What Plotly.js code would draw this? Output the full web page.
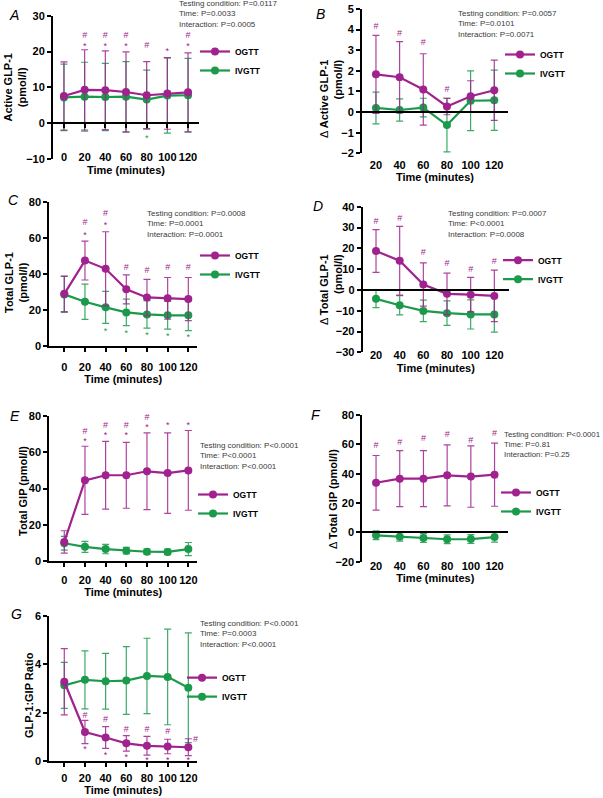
<!DOCTYPE html>
<html>
<head>
<meta charset="utf-8">
<script src="https://cdn.plot.ly/plotly-3.0.1.min.js"></script>
<style>html,body{margin:0;padding:0;background:#fff}#chart{width:603px;height:798px}</style>
</head>
<body>
<div id="chart"></div>
<script>
// ---------------- DATA ----------------
const timeFull = [0, 20, 40, 60, 80, 100, 120];
const timeDelta = [20, 40, 60, 80, 100, 120];
const xTitle = 'Time (minutes)';

// A: Active GLP-1 (pmol/l)
const activeOgttMean = [7.6, 9.3, 9.2, 8.7, 7.8, 8.3, 8.6];
const activeOgttSd = [9.5, 11.2, 11.0, 11.2, 9.4, 10.0, 11.0];
const activeIvgttMean = [7.2, 7.4, 7.3, 7.4, 6.6, 7.7, 7.8];
const activeIvgttSd = [9.3, 9.6, 9.4, 9.8, 8.2, 10.5, 10.3];
const activeHashT = [20, 40, 60, 80, 120];
const activeHashY = [24.5, 24.5, 24.5, 21.6, 24.5];
const activeStarT = [20, 40, 60, 100, 120];
const activeStarY = [21.4, 21.4, 21.4, 20.0, 21.4];
const activeIvStarT = [80];
const activeIvStarY = [-4.4];

// B: Delta Active GLP-1
const dActiveOgttMean = [1.83, 1.69, 1.10, 0.27, 0.77, 1.06];
const dActiveOgttSd = [1.89, 1.73, 1.73, 0.40, 0.75, 1.46];
const dActiveIvgttMean = [0.20, 0.10, 0.22, -0.63, 0.55, 0.57];
const dActiveIvgttSd = [0.77, 0.54, 0.45, 1.30, 1.45, 1.46];
const dActiveHashT = [20, 40, 60, 80];
const dActiveHashY = [4.14, 3.78, 3.36, 1.09];

// C: Total GLP-1
const totalOgttMean = [28.8, 47.3, 42.7, 31.3, 26.8, 26.3, 25.9];
const totalOgttSd = [9.9, 10.8, 20.6, 8.1, 10.1, 11.6, 12.0];
const totalIvgttMean = [28.5, 24.4, 21.3, 18.5, 17.4, 16.9, 16.9];
const totalIvgttSd = [10.0, 9.8, 8.9, 7.4, 7.6, 7.7, 8.5];
const totalHashT = [20, 40, 60, 80, 100, 120];
const totalHashY = [68.5, 73.5, 43.3, 41.7, 43.3, 43.3];
const totalStarT = [20, 40];
const totalStarY = [60.9, 66.6];
const totalIvStarT = [40, 60, 80, 100, 120];
const totalIvStarY = [7.9, 6.4, 5.5, 4.8, 4.2];

// D: Delta Total GLP-1
const dTotalOgttMean = [18.7, 14.0, 2.6, -1.9, -2.3, -2.9];
const dTotalOgttSd = [10.3, 16.5, 10.4, 10.0, 8.3, 12.4];
const dTotalIvgttMean = [-4.3, -7.4, -10.1, -11.2, -11.8, -11.8];
const dTotalIvgttSd = [4.2, 4.6, 5.2, 5.9, 7.0, 8.5];
const dTotalHashT = [20, 40, 60, 80, 100, 120];
const dTotalHashY = [32.7, 34.4, 17.7, 12.6, 9.8, 13.4];

// E: Total GIP
const gipOgttMean = [10.5, 44.5, 47.3, 47.3, 49.5, 48.5, 50.0];
const gipOgttSd = [6.2, 18.8, 18.7, 18.2, 21.2, 22.2, 22.0];
const gipIvgttMean = [9.8, 7.8, 6.6, 5.7, 5.1, 5.0, 6.6];
const gipIvgttSd = [3.8, 3.0, 2.6, 1.8, 1.4, 1.5, 3.6];
const gipHashT = [20, 40, 60, 80, 100, 120];
const gipHashY = [71.4, 74.5, 74.5, 79.0, 80.2, 80.2];
const gipStarT = [20, 40, 60, 80, 100, 120];
const gipStarY = [66.0, 69.2, 69.2, 73.7, 74.6, 74.6];

// F: Delta Total GIP
const dGipOgttMean = [33.8, 36.6, 36.6, 38.9, 38.0, 39.3];
const dGipOgttSd = [18.6, 19.1, 19.1, 20.8, 20.9, 21.5];
const dGipIvgttMean = [-2.0, -3.0, -3.9, -4.7, -4.6, -3.2];
const dGipIvgttSd = [3.0, 3.0, 3.0, 3.0, 3.0, 3.5];
const dGipHashT = [20, 40, 60, 80, 100, 120];
const dGipHashY = [59.2, 61.3, 63.5, 66.7, 62.4, 67.4];

// G: GLP-1:GIP ratio
const ratioOgttMean = [3.28, 1.20, 0.97, 0.73, 0.63, 0.60, 0.57];
const ratioOgttSd = [1.37, 0.48, 0.45, 0.32, 0.39, 0.30, 0.35];
const ratioIvgttMean = [3.13, 3.36, 3.30, 3.33, 3.52, 3.48, 3.03];
const ratioIvgttSd = [0.95, 1.20, 1.15, 1.40, 1.56, 1.98, 2.27];
const ratioHashT = [20, 40, 60, 80, 100, 127];
const ratioHashY = [1.86, 1.70, 1.31, 1.31, 1.21, 0.90];
const ratioStarT = [20, 40, 60, 80, 100, 120];
const ratioStarY = [0.46, 0.23, 0.15, 0.02, 0.02, 0.02];

// ---------------- STYLE / LAYOUT ----------------
const W = 603, H = 798;
const PURPLE = '#a0228e', GREEN = '#1b9a4b';
const PURPLE_ERR = 'rgba(160,34,142,0.85)', GREEN_ERR = 'rgba(27,154,75,0.85)';
const FONT = '"Liberation Sans", Arial, Helvetica, sans-serif';
const STAT = '#3a3a3a';

const traces = [];
const annotations = [];
const layout = {
  width: W, height: H, margin: {l: 0, r: 0, t: 0, b: 0},
  paper_bgcolor: '#ffffff', plot_bgcolor: 'rgba(0,0,0,0)',
  font: {family: FONT, color: '#000'},
  showlegend: true, annotations: annotations
};

function panel(n, o) {
  const sfx = n === 1 ? '' : String(n);
  const xr = 'x' + sfx, yr = 'y' + sfx, leg = 'legend' + sfx;
  [['IVGTT', GREEN, GREEN_ERR, o.ivMean, o.ivSd, 2], ['OGTT', PURPLE, PURPLE_ERR, o.ogMean, o.ogSd, 1]].forEach(function (s) {
    traces.push({
      type: 'scatter', mode: 'lines+markers', x: o.time, y: s[3], name: s[0],
      xaxis: xr, yaxis: yr, legend: leg, legendrank: s[5],
      line: {color: s[1], width: 2.2}, marker: {color: s[1], size: 8},
      error_y: {type: 'data', array: s[4], visible: true, color: s[2], thickness: 1.2, width: 3.5},
      cliponaxis: false, hoverinfo: 'skip'
    });
  });
  o.marks.forEach(function (m) {
    traces.push({
      type: 'scatter', mode: 'text', x: m.t, y: m.y, text: m.t.map(function () { return m.s; }),
      textfont: {color: m.c, size: 9, family: FONT}, xaxis: xr, yaxis: yr,
      showlegend: false, hoverinfo: 'skip', cliponaxis: false
    });
  });
  const xd = [o.box[0] / W, o.box[2] / W];
  const yd = [1 - o.box[3] / H, 1 - o.box[1] / H];
  layout['yaxis' + sfx] = {
    domain: yd, range: o.yRange, anchor: xr, tickmode: 'linear', tick0: o.yRange[0], dtick: o.dtick,
    ticks: 'outside', ticklen: 4, tickwidth: 2, tickcolor: '#000',
    showline: true, linewidth: 2, linecolor: '#000', showgrid: false, zeroline: false,
    tickfont: {size: 11, weight: 700, family: FONT}, fixedrange: true
  };
  const xa = {
    domain: xd, range: o.xRange, tickmode: 'array', tickvals: o.time, ticktext: o.time.map(String),
    showgrid: false, zeroline: false, showline: true, linewidth: 2, linecolor: '#000',
    ticks: o.tickMarks ? 'outside' : '', ticklen: 4, tickwidth: 2, tickcolor: '#000',
    tickfont: {size: 11, weight: 700, family: FONT}, ticklabelstandoff: o.lblOff,
    title: {text: xTitle, font: {size: 11, weight: 700, family: FONT}, standoff: o.titleOff},
    fixedrange: true
  };
  if (o.atZero) {
    xa.anchor = 'free';
    xa.position = yd[0] + (0 - o.yRange[0]) / (o.yRange[1] - o.yRange[0]) * (yd[1] - yd[0]);
  } else {
    xa.anchor = yr;
  }
  layout['xaxis' + sfx] = xa;
  layout[leg] = {
    x: o.leg[0] / W, xanchor: 'left', y: 1 - o.leg[1] / H, yanchor: 'middle',
    font: {size: 8.5, weight: 700, family: FONT, color: '#000'},
    bgcolor: 'rgba(0,0,0,0)', borderwidth: 0, itemsizing: 'trace', traceorder: 'normal'
  };
  annotations.push({
    xref: 'paper', yref: 'paper', x: o.stat[0] / W, y: 1 - o.stat[1] / H,
    xanchor: 'left', yanchor: 'middle', align: 'left', showarrow: false,
    text: o.statText.join('<br>'), font: {size: o.statSize || 8, color: STAT, family: FONT}
  });
  annotations.push({
    xref: 'paper', yref: 'paper', x: o.letter[0] / W, y: 1 - o.letter[1] / H,
    xanchor: 'center', yanchor: 'middle', showarrow: false,
    text: '<i>' + o.letterText + '</i>', font: {size: 14, family: FONT, color: '#000'}
  });
  annotations.push({
    xref: 'paper', yref: 'paper', x: o.yt[0] / W, y: 1 - o.yt[1] / H,
    xanchor: 'center', yanchor: 'middle', showarrow: false, textangle: -90,
    align: o.ytAlign || 'center',
    text: o.ytText, font: {size: 11, family: FONT, color: '#000'}
  });
}

panel(1, {
  time: timeFull, ogMean: activeOgttMean, ogSd: activeOgttSd, ivMean: activeIvgttMean, ivSd: activeIvgttSd,
  marks: [{t: activeHashT, y: activeHashY, s: '#', c: PURPLE}, {t: activeStarT, y: activeStarY, s: '*', c: PURPLE},
          {t: activeIvStarT, y: activeIvStarY, s: '*', c: GREEN}],
  box: [53, 15.7, 199, 159], yRange: [-10, 30], dtick: 10, xRange: [-10.6, 130.6],
  atZero: true, tickMarks: true, lblOff: 20, titleOff: 3,
  leg: [195, 61], stat: [176.7, 14.3],
  statText: ['Testing condition: P=0.0117', 'Time: P=0.0033', 'Interaction: P=0.0005'],
  letter: [13.5, 15], letterText: 'A',
  yt: [14.5, 88], ytText: '<b>Active GLP-1</b><br><b>(pmol/l)</b>'
});

panel(2, {
  time: timeDelta, ogMean: dActiveOgttMean, ogSd: dActiveOgttSd, ivMean: dActiveIvgttMean, ivSd: dActiveIvgttSd,
  marks: [{t: dActiveHashT, y: dActiveHashY, s: '#', c: PURPLE}],
  box: [362, 9, 508, 153.3], yRange: [-2, 5], dtick: 1, xRange: [8.2, 131.6],
  atZero: true, tickMarks: false, lblOff: 43, titleOff: 1,
  leg: [500, 64], stat: [456, 24],
  statText: ['Testing condition: P=0.0057', 'Time: P=0.0101', 'Interaction: P=0.0071'],
  letter: [320, 14], letterText: 'B',
  yt: [330.5, 98.5], ytAlign: 'right', ytText: 'Δ <b>Active GLP-1</b><br><b>(pmol/l)</b>'
});

panel(3, {
  time: timeFull, ogMean: totalOgttMean, ogSd: totalOgttSd, ivMean: totalIvgttMean, ivSd: totalIvgttSd,
  marks: [{t: totalHashT, y: totalHashY, s: '#', c: PURPLE}, {t: totalStarT, y: totalStarY, s: '*', c: PURPLE},
          {t: totalIvStarT, y: totalIvStarY, s: '*', c: GREEN}],
  box: [49.3, 201.7, 197, 345.7], yRange: [0, 80], dtick: 20, xRange: [-14.5, 128.4],
  atZero: false, tickMarks: true, lblOff: 6, titleOff: 3,
  leg: [195, 265], stat: [145, 224],
  statText: ['Testing condition: P=0.0008', 'Time: P=0.0001', 'Interaction: P=0.0001'],
  letter: [14, 200], letterText: 'C',
  yt: [16, 283], ytText: '<b>Total GLP-1</b><br><b>(pmol/l)</b>'
});

panel(4, {
  time: timeDelta, ogMean: dTotalOgttMean, ogSd: dTotalOgttSd, ivMean: dTotalIvgttMean, ivSd: dTotalIvgttSd,
  marks: [{t: dTotalHashT, y: dTotalHashY, s: '#', c: PURPLE}],
  box: [362.7, 206.7, 509, 352.3], yRange: [-30, 40], dtick: 10, xRange: [8.75, 132.4],
  atZero: true, tickMarks: false, lblOff: 55, titleOff: 3,
  leg: [498, 269.7], stat: [446, 224],
  statText: ['Testing condition: P=0.0007', 'Time: P<0.0001', 'Interaction: P=0.0008'],
  letter: [318, 206], letterText: 'D',
  yt: [331, 290], ytAlign: 'right', ytText: 'Δ <b>Total GLP-1</b><br><b>(pmol/l)</b>'
});

panel(5, {
  time: timeFull, ogMean: gipOgttMean, ogSd: gipOgttSd, ivMean: gipIvgttMean, ivSd: gipIvgttSd,
  marks: [{t: gipHashT, y: gipHashY, s: '#', c: PURPLE}, {t: gipStarT, y: gipStarY, s: '*', c: PURPLE}],
  box: [49.3, 416, 197, 561], yRange: [0, 80], dtick: 20, xRange: [-14.5, 128.4],
  atZero: false, tickMarks: true, lblOff: 4, titleOff: 3,
  leg: [193, 504], stat: [198.3, 455.7],
  statText: ['Testing condition: P<0.0001', 'Time: P<0.0001', 'Interaction: P<0.0001'],
  letter: [15, 416], letterText: 'E',
  yt: [23, 491], ytText: '<b>Total GIP (pmol/l)</b>'
});

panel(6, {
  time: timeDelta, ogMean: dGipOgttMean, ogSd: dGipOgttSd, ivMean: dGipIvgttMean, ivSd: dGipIvgttSd,
  marks: [{t: dGipHashT, y: dGipHashY, s: '#', c: PURPLE}],
  box: [362.3, 415, 508.3, 561.7], yRange: [-20, 80], dtick: 20, xRange: [8.4, 131.6],
  atZero: true, tickMarks: false, lblOff: 23, titleOff: 3,
  leg: [496, 502], stat: [502, 444.3], statSize: 7.8,
  statText: ['Testing condition: P<0.0001', 'Time: P=0.81', 'Interaction: P=0.25'],
  letter: [316, 414.7], letterText: 'F',
  yt: [333, 499], ytText: 'Δ <b>Total GIP (pmol/l)</b>'
});

panel(7, {
  time: timeFull, ogMean: ratioOgttMean, ogSd: ratioOgttSd, ivMean: ratioIvgttMean, ivSd: ratioIvgttSd,
  marks: [{t: ratioHashT, y: ratioHashY, s: '#', c: PURPLE}, {t: ratioStarT, y: ratioStarY, s: '*', c: PURPLE}],
  box: [49.3, 616, 197, 761], yRange: [0, 6], dtick: 2, xRange: [-14.5, 128.4],
  atZero: false, tickMarks: true, lblOff: 2, titleOff: 3,
  leg: [182, 687.2], stat: [198.3, 634],
  statText: ['Testing condition: P<0.0001', 'Time: P=0.0003', 'Interaction: P<0.0001'],
  letter: [16, 614], letterText: 'G',
  yt: [29, 695], ytText: '<b>GLP-1:GIP Ratio</b>'
});

Plotly.newPlot('chart', traces, layout, {staticPlot: true, displayModeBar: false});
</script>
</body>
</html>
